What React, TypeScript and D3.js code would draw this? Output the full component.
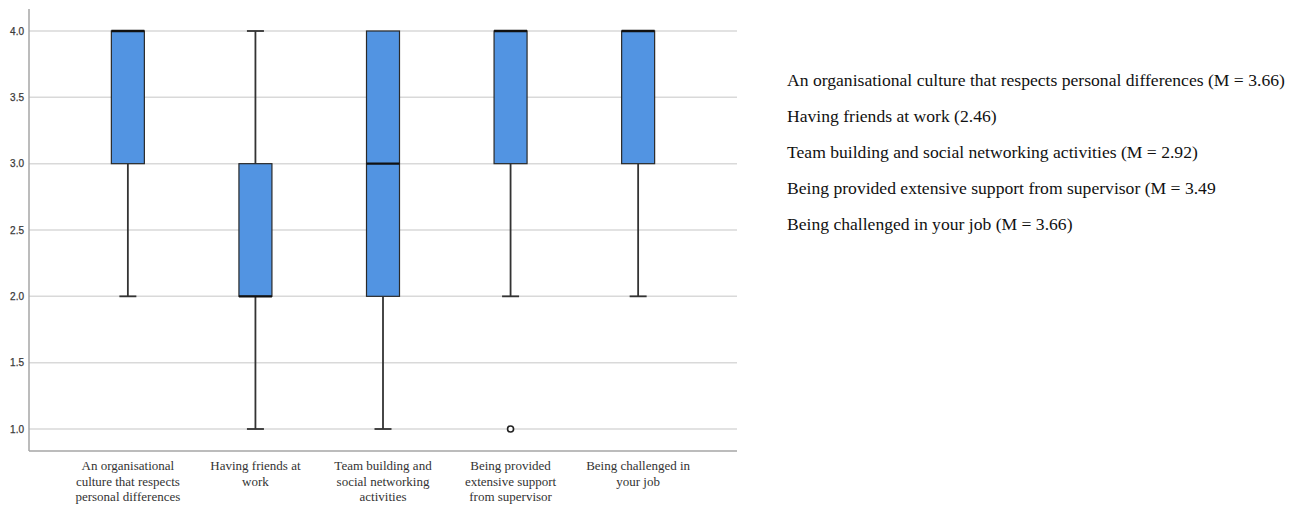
import React from "react";
import * as d3 from "d3";

// Item labels on the category axis (line-broken as displayed)
const categories: string[][] = [
  ["An organisational", "culture that respects", "personal differences"],
  ["Having friends at", "work"],
  ["Team building and", "social networking", "activities"],
  ["Being provided", "extensive support", "from supervisor"],
  ["Being challenged in", "your job"],
];

// Five-number summaries per item
const whiskerLow = [2, 1, 1, 2, 2];
const quartile1 = [3, 2, 2, 3, 3];
const medians = [4, 2, 3, 4, 4];
const quartile3 = [4, 3, 4, 4, 4];
const whiskerHigh = [4, 4, 4, 4, 4];
// Outliers: [item index, value]
const outliers: [number, number][] = [[3, 1]];

const yTicks = [1.0, 1.5, 2.0, 2.5, 3.0, 3.5, 4.0];

const legendLines = [
  "An organisational culture that respects personal differences (M = 3.66)",
  "Having friends at work (2.46)",
  "Team building and social networking activities (M = 2.92)",
  "Being provided extensive support from supervisor (M = 3.49",
  "Being challenged in your job (M = 3.66)",
];

const W = 1299;
const H = 508;
const left = 29;
const right = 737;
const top = 9;
const bottom = 451;

export default function App() {
  const y = d3.scaleLinear().domain([1, 4]).range([429, 31]);
  const x = d3
    .scalePoint<number>()
    .domain(d3.range(categories.length))
    .range([left, right])
    .padding(0.775);

  const boxW = 33;
  const capW = 17;
  const serif = "'Liberation Serif', 'Times New Roman', serif";

  return (
    <svg
      width={W}
      height={H}
      style={{ position: "absolute", left: 0, top: 0, background: "#fff" }}
    >
      {/* gridlines */}
      {yTicks.map((t) => (
        <line
          key={"g" + t}
          x1={left}
          x2={right}
          y1={y(t)}
          y2={y(t)}
          stroke="#d9d9d9"
          strokeWidth={1.5}
        />
      ))}
      {/* axes */}
      <line x1={left} x2={left} y1={top} y2={bottom} stroke="#a6a6a6" strokeWidth={1.5} />
      <line x1={left} x2={right} y1={bottom} y2={bottom} stroke="#a6a6a6" strokeWidth={1.5} />
      {yTicks.map((t) => (
        <text
          key={"t" + t}
          x={24}
          y={y(t)}
          dy="0.35em"
          textAnchor="end"
          fontFamily="'Liberation Sans', Arial, sans-serif"
          fontSize={10}
          fill="#3a3a3a"
          stroke="#3a3a3a"
          strokeWidth={0.25}
        >
          {t.toFixed(1)}
        </text>
      ))}

      {/* boxes */}
      {categories.map((_, i) => {
        const cx = x(i)!;
        return (
          <g key={"b" + i}>
            {/* whiskers */}
            {whiskerHigh[i] > quartile3[i] && (
              <>
                <line x1={cx} x2={cx} y1={y(quartile3[i])} y2={y(whiskerHigh[i])} stroke="#333" strokeWidth={1.8} />
                <line x1={cx - capW / 2} x2={cx + capW / 2} y1={y(whiskerHigh[i])} y2={y(whiskerHigh[i])} stroke="#333" strokeWidth={1.8} />
              </>
            )}
            {whiskerLow[i] < quartile1[i] && (
              <>
                <line x1={cx} x2={cx} y1={y(quartile1[i])} y2={y(whiskerLow[i])} stroke="#333" strokeWidth={1.8} />
                <line x1={cx - capW / 2} x2={cx + capW / 2} y1={y(whiskerLow[i])} y2={y(whiskerLow[i])} stroke="#333" strokeWidth={1.8} />
              </>
            )}
            <rect
              x={cx - boxW / 2}
              y={y(quartile3[i])}
              width={boxW}
              height={y(quartile1[i]) - y(quartile3[i])}
              fill="#5294e2"
              stroke="#2a2a2a"
              strokeWidth={1.2}
            />
            <line
              x1={cx - boxW / 2}
              x2={cx + boxW / 2}
              y1={y(medians[i])}
              y2={y(medians[i])}
              stroke="#111"
              strokeWidth={2.4}
            />
          </g>
        );
      })}

      {/* outliers */}
      {outliers.map(([i, v], k) => (
        <circle key={"o" + k} cx={x(i)!} cy={y(v)} r={3} fill="#fff" stroke="#222" strokeWidth={1.6} />
      ))}

      {/* category labels */}
      {categories.map((lines, i) => (
        <text
          key={"c" + i}
          x={x(i)!}
          y={470}
          textAnchor="middle"
          fontFamily={serif}
          fontSize={13}
          fill="#333"
        >
          {lines.map((ln, j) => (
            <tspan key={j} x={x(i)!} dy={j === 0 ? 0 : 15.5}>
              {ln}
            </tspan>
          ))}
        </text>
      ))}

      {/* side notes with means */}
      {legendLines.map((ln, i) => (
        <text
          key={"l" + i}
          x={787}
          y={86 + i * 36}
          fontFamily={serif}
          fontSize={17.6}
          fill="#111"
        >
          {ln}
        </text>
      ))}
    </svg>
  );
}
